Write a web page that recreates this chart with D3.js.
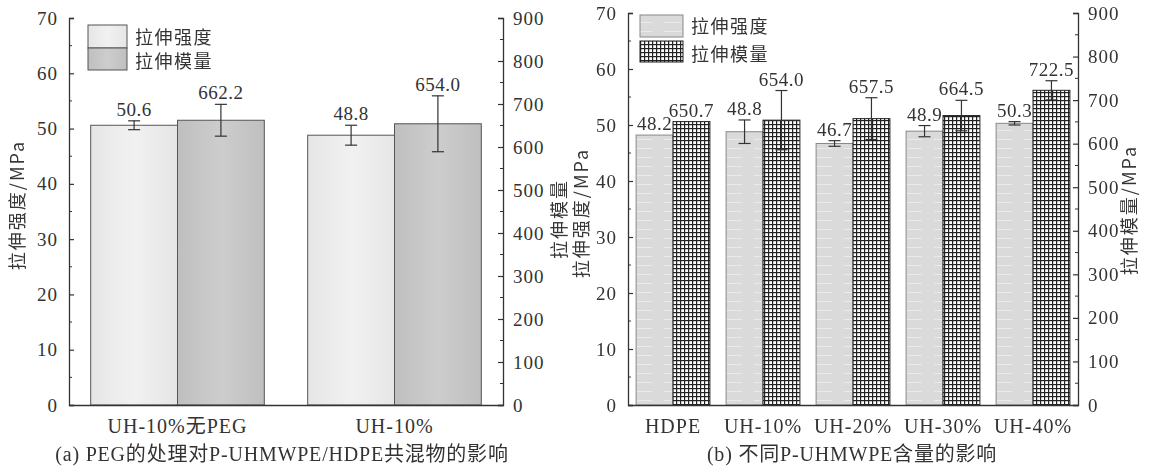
<!DOCTYPE html>
<html><head><meta charset="utf-8">
<script src="https://cdn.jsdelivr.net/npm/d3@7"></script>
<style>
body{margin:0;background:#fff;}
svg{display:block;}
text{font-family:'Liberation Serif','Noto Sans CJK SC',serif;fill:#333;}
.cjk{font-family:'Noto Sans CJK SC','Liberation Serif',sans-serif;}
</style></head><body>
<svg id="c" width="1155" height="467"></svg>
<script>
// ---------- data ----------
const catsA = ["UH-10%无PEG", "UH-10%"];
const strengthA = [50.6, 48.8];
const strengthErrA = [0.8, 1.8];
const modulusA = [662.2, 654.0];
const modulusErrA = [37, 65];

const catsB = ["HDPE", "UH-10%", "UH-20%", "UH-30%", "UH-40%"];
const strengthB = [48.2, 48.8, 46.7, 48.9, 50.3];
const strengthErrB = [0, 2.1, 0.5, 1.0, 0.3];
const modulusB = [650.7, 654.0, 657.5, 664.5, 722.5];
const modulusErrB = [0, 68, 48, 35, 22];

const leftTicks = [0, 10, 20, 30, 40, 50, 60, 70];
const rightTicks = [0, 100, 200, 300, 400, 500, 600, 700, 800, 900];
const legendLabels = ["拉伸强度", "拉伸模量"];
const titleLeft = "拉伸强度/MPa";
const titleRightA = "拉伸模量";
const titleRightB = "拉伸模量/MPa";
const captionA = "(a) PEG的处理对P-UHMWPE/HDPE共混物的影响";
const captionB = "(b) 不同P-UHMWPE含量的影响";

const svg = d3.select("#c");
const defs = svg.append("defs");

function grad(id, edge, mid) {
  const g = defs.append("linearGradient").attr("id", id).attr("x1", 0).attr("x2", 1).attr("y1", 0).attr("y2", 0);
  g.append("stop").attr("offset", "0%").attr("stop-color", edge);
  g.append("stop").attr("offset", "50%").attr("stop-color", mid);
  g.append("stop").attr("offset", "100%").attr("stop-color", edge);
}
grad("gA1", "#e6e6e6", "#f1f1f1");
grad("gA2", "#bfbfbf", "#cdcdcd");
const pat = defs.append("pattern").attr("id", "grid").attr("patternUnits", "userSpaceOnUse")
  .attr("width", 4).attr("height", 4);
pat.append("rect").attr("width", 4).attr("height", 4).attr("fill", "#fff");
pat.append("rect").attr("x", 0).attr("y", 0).attr("width", 4).attr("height", 1.2).attr("fill", "#222");
pat.append("rect").attr("x", 0).attr("y", 0).attr("width", 1.2).attr("height", 4).attr("fill", "#222");
const pat2 = defs.append("pattern").attr("id", "lines").attr("patternUnits", "userSpaceOnUse")
  .attr("width", 30).attr("height", 9);
pat2.append("rect").attr("width", 30).attr("height", 9).attr("fill", "#dadada");
pat2.append("rect").attr("x", 4).attr("y", 4).attr("width", 18).attr("height", 0.8).attr("fill", "#eeeeee");

function panel(cfg) {
  const g = svg.append("g");
  const x = d3.scaleBand().domain(cfg.cats).range([cfg.x0, cfg.x1]).paddingInner(cfg.padIn).paddingOuter(cfg.padOut);
  const yL = d3.scaleLinear().domain([0, 70]).range([cfg.yb, cfg.yt]);
  const yR = d3.scaleLinear().domain([0, 900]).range([cfg.yb, cfg.yt]);
  const bw = x.bandwidth() / 2;

  cfg.cats.forEach((c, i) => {
    const xs = x(c);
    g.append("rect").attr("x", xs).attr("y", yL(cfg.s[i])).attr("width", bw)
      .attr("height", cfg.yb - yL(cfg.s[i])).attr("fill", cfg.fill1).attr("stroke", cfg.stroke1).attr("stroke-width", 1);
    g.append("rect").attr("x", xs + bw).attr("y", yR(cfg.m[i])).attr("width", bw)
      .attr("height", cfg.yb - yR(cfg.m[i])).attr("fill", cfg.fill2).attr("stroke", cfg.stroke2).attr("stroke-width", 1);
    const eb = (cx, sc, v, e) => {
      if (!e) return;
      const cap = 6;
      g.append("line").attr("x1", cx).attr("x2", cx).attr("y1", sc(v + e)).attr("y2", sc(v - e)).attr("stroke", "#333").attr("stroke-width", 1.2);
      g.append("line").attr("x1", cx - cap).attr("x2", cx + cap).attr("y1", sc(v + e)).attr("y2", sc(v + e)).attr("stroke", "#333").attr("stroke-width", 1.2);
      g.append("line").attr("x1", cx - cap).attr("x2", cx + cap).attr("y1", sc(v - e)).attr("y2", sc(v - e)).attr("stroke", "#333").attr("stroke-width", 1.2);
    };
    eb(xs + bw / 2, yL, cfg.s[i], cfg.se[i]);
    eb(xs + bw * 1.5, yR, cfg.m[i], cfg.me[i]);
    g.append("text").attr("x", xs + bw / 2).attr("y", yL(cfg.s[i] + cfg.se[i]) - cfg.lblOff)
      .attr("text-anchor", "middle").attr("font-size", 19).attr("letter-spacing", 0.5).text(cfg.s[i].toFixed(1));
    g.append("text").attr("x", xs + bw * 1.5).attr("y", yR(cfg.m[i] + cfg.me[i]) - cfg.lblOff)
      .attr("text-anchor", "middle").attr("font-size", 19).attr("letter-spacing", 0.5).text(cfg.m[i].toFixed(1));
  });

  const axL = d3.axisLeft(yL).tickValues(leftTicks).tickSize(-5).tickPadding(11);
  const axR = d3.axisRight(yR).tickValues(rightTicks).tickSize(-5).tickPadding(10);
  const gl = g.append("g").attr("transform", `translate(${cfg.x0},0)`).call(axL);
  const gr = g.append("g").attr("transform", `translate(${cfg.x1},0)`).call(axR);
  [gl, gr].forEach(a => {
    a.select(".domain").attr("stroke", "#333").attr("stroke-width", 1.3);
    a.selectAll(".tick line").attr("stroke", "#333").attr("stroke-width", 1.2);
    a.selectAll(".tick text").attr("font-size", 19).attr("fill", "#333").attr("letter-spacing", 1)
      .attr("font-family", "'Liberation Serif',serif");
  });
  d3.range(5, 70, 10).forEach(v => g.append("line").attr("x1", cfg.x0).attr("x2", cfg.x0 + 3)
    .attr("y1", yL(v)).attr("y2", yL(v)).attr("stroke", "#333"));
  d3.range(50, 900, 100).forEach(v => g.append("line").attr("x1", cfg.x1).attr("x2", cfg.x1 - 3)
    .attr("y1", yR(v)).attr("y2", yR(v)).attr("stroke", "#333"));
  const axB = d3.axisBottom(x).tickSize(0).tickPadding(14);
  const gb = g.append("g").attr("transform", `translate(0,${cfg.yb})`).call(axB);
  gb.select(".domain").attr("stroke", "#333").attr("stroke-width", 1.3);
  gb.selectAll(".tick text").attr("font-size", 20).attr("fill", "#333").attr("letter-spacing", 1)
    .attr("font-family", "'Liberation Serif','Noto Sans CJK SC',serif");

  const tg = g.append("g").attr("opacity", 0.99);
  tg.append("text").attr("class", "cjk").attr("transform", `translate(${cfg.tlx},${cfg.tly}) rotate(-90)`)
    .attr("text-anchor", "middle").attr("dominant-baseline", "central").attr("font-size", 18)
    .attr("letter-spacing", 2).text(titleLeft);
  tg.append("text").attr("class", "cjk").attr("transform", `translate(${cfg.trx},${cfg.try}) rotate(-90)`)
    .attr("text-anchor", "middle").attr("dominant-baseline", "central").attr("font-size", 18)
    .attr("letter-spacing", 2).text(cfg.titleR);
  g.append("text").attr("x", cfg.capx).attr("y", 461).attr("text-anchor", "middle").attr("font-size", 20)
    .attr("letter-spacing", 0.8).text(cfg.caption);

  cfg.leg.forEach((l, i) => {
    g.append("rect").attr("x", l.x).attr("y", l.y).attr("width", l.w).attr("height", l.h)
      .attr("fill", i === 0 ? cfg.fill1 : cfg.fill2).attr("stroke", i === 0 ? cfg.stroke1 : cfg.stroke2);
    g.append("text").attr("class", "cjk").attr("x", l.x + l.w + 8).attr("y", l.y + l.h / 2 + (i === 0 ? -1 : 1))
      .attr("dominant-baseline", "central")
      .attr("font-size", 18).attr("letter-spacing", 1.5).text(legendLabels[i]);
  });
}

panel({
  cats: catsA, s: strengthA, se: strengthErrA, m: modulusA, me: modulusErrA,
  x0: 69, x1: 503, yb: 405, yt: 18, padIn: 0.2, padOut: 0.1,
  fill1: "url(#gA1)", fill2: "url(#gA2)", stroke1: "#555", stroke2: "#555",
  lblOff: 5, tlx: 16, tly: 205, trx: 558, try: 219, titleR: titleRightA,
  capx: 282, caption: captionA,
  leg: [{x: 88, y: 25, w: 39, h: 23}, {x: 88, y: 48, w: 39, h: 22}]
});
panel({
  cats: catsB, s: strengthB, se: strengthErrB, m: modulusB, me: modulusErrB,
  x0: 628, x1: 1078, yb: 405, yt: 13, padIn: 0.18, padOut: 0.09,
  fill1: "url(#lines)", fill2: "url(#grid)", stroke1: "#888", stroke2: "#222",
  lblOff: 5, tlx: 580, tly: 213, trx: 1128, try: 210, titleR: titleRightB,
  capx: 852, caption: captionB,
  leg: [{x: 640, y: 15, w: 43, h: 22}, {x: 640, y: 41, w: 43, h: 21}]
});
</script></body></html>
